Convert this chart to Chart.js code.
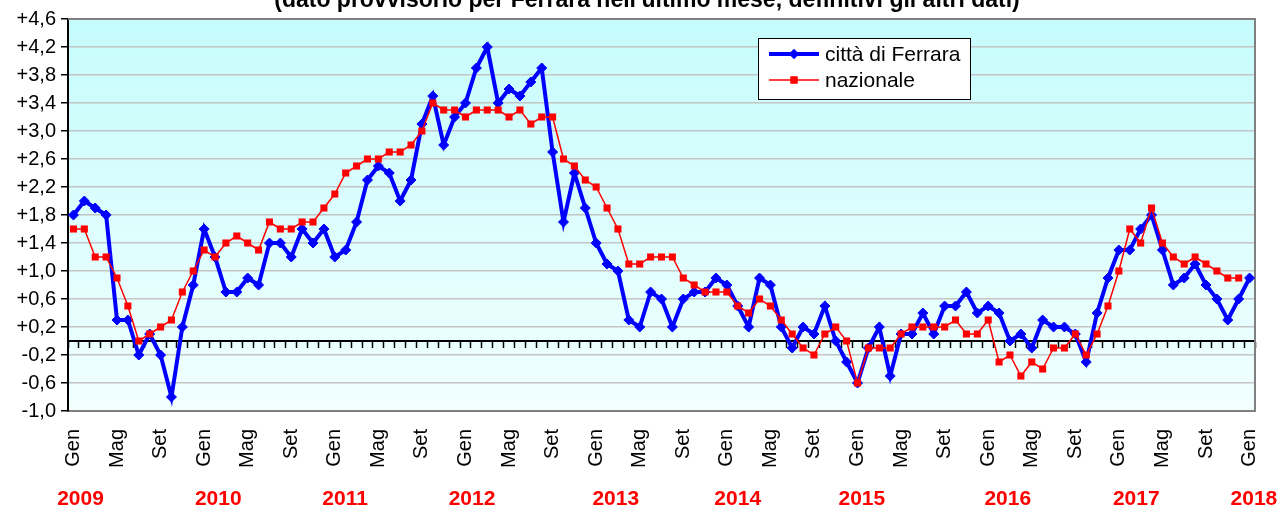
<!DOCTYPE html>
<html>
<head>
<meta charset="utf-8">
<title>Inflazione Ferrara e nazionale</title>
<script src="https://cdn.jsdelivr.net/npm/chart.js@4.4.1/dist/chart.umd.min.js"></script>
<style>
html, body { margin: 0; padding: 0; background: #fff; }
canvas { display: block; }
</style>
</head>
<body>
<canvas id="grafico" width="1280" height="508"></canvas>
<script>
var mesi = ['Gen','Feb','Mar','Apr','Mag','Giu','Lug','Ago','Set','Ott','Nov','Dic'];
var anni = ['2009','2010','2011','2012','2013','2014','2015','2016','2017','2018'];

// variazioni tendenziali, da Gen 2009 a Gen 2018
var ferrara = [
  1.8, 2.0, 1.9, 1.8, 0.3, 0.3, -0.2, 0.1, -0.2, -0.8, 0.2, 0.8,
  1.6, 1.2, 0.7, 0.7, 0.9, 0.8, 1.4, 1.4, 1.2, 1.6, 1.4, 1.6,
  1.2, 1.3, 1.7, 2.3, 2.5, 2.4, 2.0, 2.3, 3.1, 3.5, 2.8, 3.2,
  3.4, 3.9, 4.2, 3.4, 3.6, 3.5, 3.7, 3.9, 2.7, 1.7, 2.4, 1.9,
  1.4, 1.1, 1.0, 0.3, 0.2, 0.7, 0.6, 0.2, 0.6, 0.7, 0.7, 0.9,
  0.8, 0.5, 0.2, 0.9, 0.8, 0.2, -0.1, 0.2, 0.1, 0.5, 0.0, -0.3,
  -0.6, -0.1, 0.2, -0.5, 0.1, 0.1, 0.4, 0.1, 0.5, 0.5, 0.7, 0.4,
  0.5, 0.4, 0.0, 0.1, -0.1, 0.3, 0.2, 0.2, 0.1, -0.3, 0.4, 0.9,
  1.3, 1.3, 1.6, 1.8, 1.3, 0.8, 0.9, 1.1, 0.8, 0.6, 0.3, 0.6,
  0.9
];
var nazionale = [
  1.6, 1.6, 1.2, 1.2, 0.9, 0.5, 0.0, 0.1, 0.2, 0.3, 0.7, 1.0,
  1.3, 1.2, 1.4, 1.5, 1.4, 1.3, 1.7, 1.6, 1.6, 1.7, 1.7, 1.9,
  2.1, 2.4, 2.5, 2.6, 2.6, 2.7, 2.7, 2.8, 3.0, 3.4, 3.3, 3.3,
  3.2, 3.3, 3.3, 3.3, 3.2, 3.3, 3.1, 3.2, 3.2, 2.6, 2.5, 2.3,
  2.2, 1.9, 1.6, 1.1, 1.1, 1.2, 1.2, 1.2, 0.9, 0.8, 0.7, 0.7,
  0.7, 0.5, 0.4, 0.6, 0.5, 0.3, 0.1, -0.1, -0.2, 0.1, 0.2, 0.0,
  -0.6, -0.1, -0.1, -0.1, 0.1, 0.2, 0.2, 0.2, 0.2, 0.3, 0.1, 0.1,
  0.3, -0.3, -0.2, -0.5, -0.3, -0.4, -0.1, -0.1, 0.1, -0.2, 0.1, 0.5,
  1.0, 1.6, 1.4, 1.9, 1.4, 1.2, 1.1, 1.2, 1.1, 1.0, 0.9, 0.9,
  null
];
// dove cadono le scritte degli anni (indice di mese, anche frazionario)
var posAnni = [0.65, 13.3, 24.95, 36.6, 49.8, 61.0, 72.4, 85.8, 97.6, 108.4];

var titolo = "(dato provvisorio per Ferrara nell'ultimo mese, definitivi gli altri dati)";
var FONT = "'Liberation Sans', Arial, sans-serif";

var etichette = [];
for (var a = 0; a < anni.length; a++) {
  for (var m = 0; m < 12; m++) {
    if (etichette.length < ferrara.length) etichette.push(mesi[m] + ' ' + anni[a]);
  }
}

function formatta(v) {
  var s = Math.abs(v).toFixed(1).replace('.', ',');
  if (v > 0.001) return '+' + s;
  if (v < -0.001) return '-' + s;
  return s;
}

var sfondo = {
  id: 'sfondo',
  beforeDraw: function(chart) {
    var c = chart.ctx, ca = chart.chartArea;
    var g = c.createLinearGradient(0, ca.top, 0, ca.bottom);
    g.addColorStop(0, '#c6fcfc');
    g.addColorStop(1, '#f2ffff');
    c.save();
    c.fillStyle = g;
    c.fillRect(ca.left, ca.top, ca.right - ca.left, ca.bottom - ca.top);
    c.restore();
  },
  beforeDatasetsDraw: function(chart) {
    var c = chart.ctx, ca = chart.chartArea;
    c.save();
    c.strokeStyle = '#808080';
    c.lineWidth = 2;
    c.beginPath();
    c.moveTo(ca.left, ca.top);
    c.lineTo(ca.right, ca.top);
    c.lineTo(ca.right, ca.bottom);
    c.stroke();
    c.restore();
  }
};

var scritte = {
  id: 'scritte',
  afterDraw: function(chart) {
    var c = chart.ctx, xs = chart.scales.x;
    c.save();
    // titolo (tagliato in alto come nell'originale)
    c.fillStyle = '#000';
    c.font = 'bold 23px ' + FONT;
    c.textAlign = 'center';
    c.textBaseline = 'alphabetic';
    c.fillText(titolo, 647, 7);
    // anni
    c.fillStyle = '#ff0000';
    c.font = 'bold 21px ' + FONT;
    c.textBaseline = 'middle';
    for (var i = 0; i < anni.length; i++) {
      c.fillText(anni[i], xs.getPixelForValue(posAnni[i]), 499);
    }
    // legenda
    var bx = 758, by = 38, bw = 212, bh = 61;
    c.fillStyle = '#fff';
    c.fillRect(bx, by, bw, bh);
    c.strokeStyle = '#000';
    c.lineWidth = 1;
    c.strokeRect(bx + 0.5, by + 0.5, bw, bh);
    var ds = chart.data.datasets;
    var righe = [54, 80];
    c.font = '21px ' + FONT;
    c.textAlign = 'left';
    for (var k = 0; k < ds.length; k++) {
      var y = righe[k];
      c.strokeStyle = ds[k].borderColor;
      c.lineWidth = ds[k].borderWidth;
      c.beginPath();
      c.moveTo(769, y);
      c.lineTo(819, y);
      c.stroke();
      c.fillStyle = ds[k].backgroundColor;
      Chart.helpers.drawPoint(c, {pointStyle: ds[k].pointStyle, radius: ds[k].pointRadius, borderWidth: 0}, 794, y);
      c.fill();
      c.fillStyle = '#000';
      c.fillText(ds[k].label, 825, y + 1);
    }
    c.restore();
  }
};

var ctx = document.getElementById('grafico').getContext('2d');
var grafico = new Chart(ctx, {
  type: 'line',
  data: {
    labels: etichette,
    datasets: [
      {
        label: 'città di Ferrara',
        data: ferrara,
        borderColor: '#0000ff',
        backgroundColor: '#0000ff',
        borderWidth: 4,
        pointStyle: 'rectRot',
        pointRadius: 5,
        pointBorderWidth: 1,
        tension: 0,
        order: 1
      },
      {
        label: 'nazionale',
        data: nazionale,
        borderColor: '#ff0000',
        backgroundColor: '#ff0000',
        borderWidth: 1.5,
        pointStyle: 'rect',
        pointRadius: 5,
        pointBorderWidth: 0,
        tension: 0,
        order: 0
      }
    ]
  },
  options: {
    responsive: false,
    animation: false,
    devicePixelRatio: 1,
    layout: { padding: { top: 19, right: 25, left: 0, bottom: 0 } },
    plugins: {
      legend: { display: false },
      tooltip: { enabled: false }
    },
    scales: {
      x: {
        type: 'category',
        offset: true,
        grid: { display: false, drawTicks: false },
        border: { display: true, color: '#808080', width: 2 },
        ticks: {
          autoSkip: false,
          minRotation: 90,
          maxRotation: 90,
          padding: 18,
          color: '#000',
          font: { family: FONT, size: 20 },
          callback: function(v, i) { return i % 4 === 0 ? mesi[i % 12] : ''; }
        },
        afterFit: function(s) { s.height = 97; s.paddingLeft = 0; s.paddingRight = 0; }
      },
      zero: {
        type: 'category',
        axis: 'x',
        position: { y: 0 },
        offset: true,
        grid: { offset: true, drawOnChartArea: false, drawTicks: true, tickLength: 6, tickColor: '#000', tickWidth: 1.5 },
        border: { display: true, color: '#000', width: 2 },
        ticks: { display: false },
        afterFit: function(s) { s.height = 0; s.paddingLeft = 0; s.paddingRight = 0; }
      },
      y: {
        min: -1.0,
        max: 4.6,
        ticks: {
          stepSize: 0.4,
          padding: 5,
          color: '#000',
          font: { family: FONT, size: 20 },
          callback: function(v) { return formatta(v); }
        },
        grid: { color: '#c4c4c4', lineWidth: 1.5, tickLength: 7, tickColor: '#000', tickWidth: 1.5 },
        border: { display: true, color: '#000', width: 2 },
        afterFit: function(s) { s.width = 68; }
      }
    }
  },
  plugins: [sfondo, scritte]
});
</script>
</body>
</html>
